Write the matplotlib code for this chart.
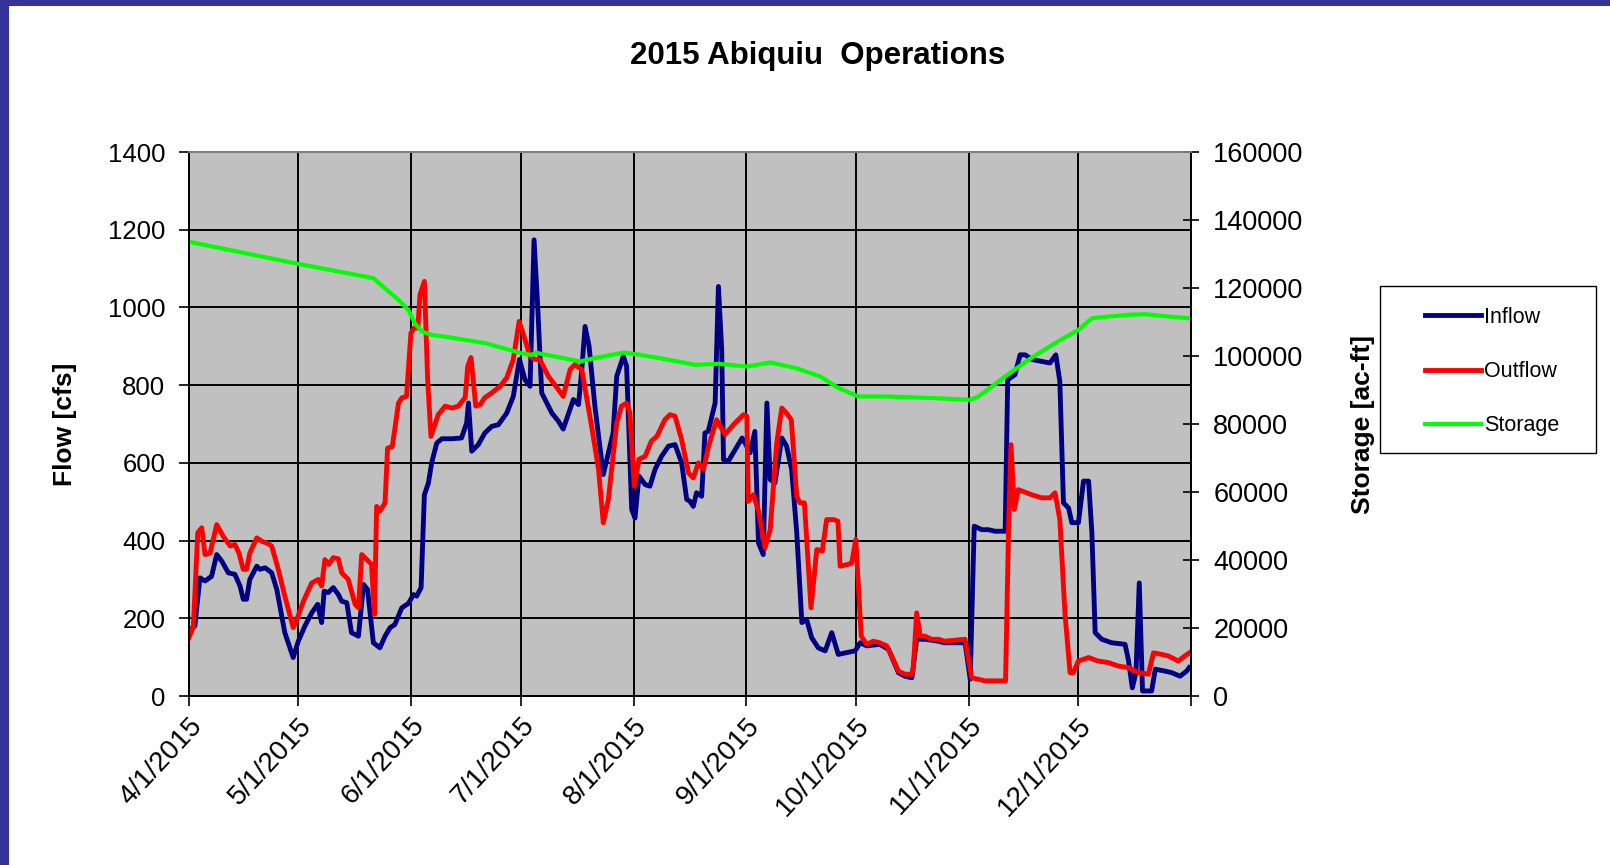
import matplotlib
matplotlib.use("Agg")
import matplotlib.pyplot as plt
import matplotlib.patches as mpatches
import numpy as np
import pandas as pd

plt.rcParams['font.family'] = ['Liberation Sans', 'DejaVu Sans']

# days after 4/1/2015 and daily flows [cfs]
inflow_day = [0, 0.3, 1.6, 3, 4.4, 6.2, 7.6, 9, 10.8, 12.6, 14, 14.9, 15.8, 16.7, 18.6, 19.5,
              20.9, 22.7, 24.1, 26.3, 28.6, 30, 31.8, 33.7, 35.3, 36.4, 37.1, 38.2, 39.6, 41,
              41.9, 43.3, 44.6, 46.5, 47.9, 49, 50.6, 52.4, 53.8, 55.2, 56.5, 58.4, 60.2, 61.6,
              62.5, 63.7, 64.6, 65.7, 66.6, 68, 69.4, 72.1, 74.8, 76.2, 76.7, 77.6, 79.4, 81.2,
              83.1, 84.9, 87.2, 89, 90.7, 92.2, 93.6, 94.7, 95.7, 96.8, 98.2, 99.6, 101.4, 102.7,
              104.2, 105.5, 106.9, 107.8, 108.7, 109.8, 111.4, 113.7, 115.1, 116.4, 117.4, 119.2,
              120.1, 121.5, 122.4, 123.5, 125.2, 126.5, 127.9, 129.7, 131.6, 133.4, 135.2, 136.6,
              137.5, 138.4, 139.3, 140.7, 141.6, 142.5, 144.4, 145.3, 146.2, 146.7, 148, 149.9,
              151.8, 152.6, 154, 155.3, 156.3, 157.6, 158.6, 159.5, 160.8, 162.7, 164, 165.4,
              166.8, 168.2, 169.5, 170.9, 172.7, 174.6, 176.4, 178.2, 180.1, 182.8, 184.2, 186,
              189.6, 192, 194.7, 196.5, 198.4, 199.7, 202, 205.7, 207.3, 213, 214.4, 215.5,
              217.6, 219.4, 221.2, 224, 224.7, 226.7, 228.1, 229.5, 231.3, 234, 236.3, 237.9,
              239, 240, 241.4, 242.3, 244.1, 245.5, 246.9, 247.8, 248.7, 250.5, 253.2, 256.9,
              257.8, 258.9, 259.9, 260.8, 261.7, 264.2, 265.2, 267.9, 269.7, 272, 273.8, 274.5]
inflow_cfs = [165, 171, 180, 304, 296, 308, 364, 347, 317, 313, 283, 249, 249, 300, 334, 326,
              330, 317, 274, 163, 99, 141, 180, 214, 236, 189, 270, 266, 279, 261,
              244, 240, 163, 154, 287, 274, 137, 124, 154, 176, 184, 227, 238, 261,
              257, 279, 518, 548, 600, 651, 662, 662, 664, 703, 754, 630, 647, 677,
              694, 698, 728, 771, 866, 814, 797, 1174, 1003, 780, 754, 728, 707, 687,
              728, 763, 750, 840, 951, 900, 746, 570, 626, 677, 823, 874,
              849, 480, 458, 566, 544, 540, 583, 617, 643, 647, 600, 506,
              501, 488, 523, 514, 677, 681, 754, 1054, 891, 608, 604, 634,
              664, 651, 626, 681, 394, 364, 754, 557, 548, 664, 643, 583,
              420, 189, 197, 150, 124, 116, 163, 107, 111, 116, 137, 129,
              133, 120, 60, 51, 47, 146, 146, 141, 137, 137, 43, 437,
              428, 428, 424, 424, 814, 827, 878, 878, 866, 861, 857, 878,
              810, 497, 484, 446, 446, 553, 553, 420, 163, 146, 137, 133,
              94, 21, 60, 291, 13, 13, 69, 64, 60, 51, 64, 73]

outflow_day = [0, 1.2, 2.4, 3.5, 4.4, 5.8, 7.6, 9.4, 11.3, 12.6, 13.7, 14.9, 15.8, 16.7, 18.6,
               20, 21.3, 22.7, 24.5, 26.3, 28.6, 29.6, 31.4, 33.7, 35.5, 36.4, 37.3, 38.4, 39.6,
               41, 41.9, 43.7, 45.6, 46.5, 47.4, 48.8, 50.1, 50.9, 51.5, 52.4, 53.8, 54.5, 55.8,
               57.5, 58.4, 59.7, 60.9, 61.8, 62.8, 63.4, 64.6, 65.5, 66.4, 68.4, 70.3, 72.1, 73.9,
               75.8, 76.5, 77.4, 78.7, 79.9, 81.2, 83.1, 85.4, 87.2, 89, 90.6, 91.8, 93.6, 95,
               96.3, 98.6, 100.4, 102.7, 104.6, 105.9, 107.8, 110.5, 112.4, 113.7, 115.1, 117.4,
               118.7, 120.1, 121, 122.2, 123.5, 125.2, 126.9, 128.4, 130.6, 132, 133.4, 135.2,
               137.1, 138.4, 139.8, 141.2, 142.6, 144.8, 147.1, 149.9, 152.2, 153.1, 153.5, 154.9,
               156.3, 158.1, 159.5, 161.3, 162.7, 164, 165.3, 166.8, 167.7, 168.9, 170.7, 172.3,
               173.8, 175, 176.9, 178.1, 178.7, 181, 181.9, 183, 184.5, 186, 187.8, 189.6, 191.5,
               193.3, 194.7, 196.5, 198.4, 198.8, 199.7, 200.7, 202, 203.8, 205.7, 207.3, 213,
               214.8, 218.5, 224.1, 225, 225.6, 226.5, 227.6, 231.3, 234, 236.3, 237.7, 239,
               240.4, 241.8, 242.7, 244.1, 246.9, 249.5, 252.3, 255.1, 257.8, 260.6, 263.3,
               264.7, 267, 268.8, 271.5, 273.3, 274.5]
outflow_cfs = [150, 180, 420, 433, 364, 368, 441, 411, 386, 390, 368, 326, 326, 368, 407,
               398, 394, 386, 326, 257, 176, 197, 244, 291, 300, 283, 351, 339, 356,
               353, 317, 300, 236, 227, 364, 351, 339, 210, 488, 476, 497, 638, 642,
               754, 767, 771, 934, 947, 947, 1033, 1067, 814, 668, 724, 746, 741, 746,
               768, 849, 871, 746, 750, 768, 780, 797, 819, 866, 964, 930, 874, 866,
               866, 823, 801, 771, 840, 853, 840, 694, 583, 446, 506, 703,
               746, 754, 729, 540, 609, 617, 656, 668, 711, 724, 720, 660,
               574, 561, 600, 583, 643, 711, 673, 703, 724, 720, 501, 518,
               476, 381, 428, 651, 741, 728, 711, 514, 497, 497, 227, 377,
               373, 454, 454, 450, 334, 339, 343, 403, 154, 133, 141, 137, 129,
               94, 64, 56, 56, 73, 214, 154, 154, 146, 146, 141, 146,
               47, 39, 39, 463, 647, 480, 531, 518, 510, 510, 523, 454,
               214, 60, 60, 90, 99, 90, 86, 77, 73, 60, 56,
               111, 107, 103, 90, 103, 111]

# reservoir storage [ac-ft]
storage_day = [0, 29, 50.6, 53.8, 57.5, 60.2, 62, 63.9, 66.6, 70.3, 81.2, 91.3, 94.1, 95,
               107.3, 111.4, 119.2, 122.4, 131.6, 138.9, 145.3, 153.1, 159.5, 166.7, 173.2,
               178.2, 183.7, 191, 204.8, 214.4, 216.7, 224, 230.4, 237.7, 244.1, 247.8, 252.3,
               257.8, 262.4, 268.8, 274.5]
storage_acft = [133600, 127300, 122900, 119900, 116500, 113600, 109600, 107200, 106200, 105700,
                103800, 100800, 100300, 101000, 98400, 99400, 101000, 100600, 98900, 97400,
                97700, 96900, 98100, 96400, 94000, 90600, 88100, 88100, 87600, 87100, 88100,
                94000, 98900, 103800, 107700, 111100, 111600, 112100, 112300, 111600, 111100]

month_ticks = ['2015-04-01', '2015-05-01', '2015-06-01', '2015-07-01', '2015-08-01',
               '2015-09-01', '2015-10-01', '2015-11-01', '2015-12-01', '2016-01-01']
month_labels = ['4/1/2015', '5/1/2015', '6/1/2015', '7/1/2015', '8/1/2015',
                '9/1/2015', '10/1/2015', '11/1/2015', '12/1/2015', '']

start = pd.Timestamp('2015-04-01')
def to_dates(days):
    return start + pd.to_timedelta(np.array(days), unit='D')

W, H = 1610, 865
fig = plt.figure(figsize=(W / 100, H / 100), dpi=100)

# slide frame: blue strip on top and left
fig.patches.append(mpatches.Rectangle((0, 1 - 6 / H), 1, 6 / H, transform=fig.transFigure,
                                      facecolor='#333399', edgecolor='none', zorder=0))
fig.patches.append(mpatches.Rectangle((0, 0), 9 / W, 1, transform=fig.transFigure,
                                      facecolor='#333399', edgecolor='none', zorder=0))

ax = fig.add_axes([189 / W, 1 - 696 / H, 1002 / W, 544 / H])
ax.set_facecolor('#C0C0C0')
ax2 = ax.twinx()

l1, = ax.plot(to_dates(inflow_day), inflow_cfs, color='#000080', lw=3.5, label='Inflow',
              solid_joinstyle='round')
l2, = ax.plot(to_dates(outflow_day), outflow_cfs, color='#FF0000', lw=3.5, label='Outflow',
              solid_joinstyle='round')
l3, = ax2.plot(to_dates(storage_day), storage_acft, color='#00FF00', lw=3.0, label='Storage',
               solid_joinstyle='round')

ticks = pd.to_datetime(month_ticks)
ax.set_xlim(ticks[0], ticks[-1])
ax.set_xticks(ticks)
ax.set_xticklabels(month_labels, rotation=47, ha='right', rotation_mode='anchor', fontsize=20)
ax.set_ylim(0, 1400)
ax.set_yticks(np.arange(0, 1401, 200))
ax.tick_params(axis='y', labelsize=18.5, length=7, width=1.2, pad=10)
ax.tick_params(axis='x', length=7, width=1.2, pad=5)
ax.grid(True, color='black', lw=1.4)
ax.set_axisbelow(True)

ax2.set_ylim(0, 160000)
ax2.set_yticks(np.arange(0, 160001, 20000))
ax2.tick_params(axis='y', labelsize=19.5, direction='inout', length=12, width=1.2, pad=10)

for a in (ax, ax2):
    a.spines['top'].set_color('#808080')
    a.spines['left'].set_color('black')
    a.spines['right'].set_color('black')
    a.spines['bottom'].set_color('black')
    for s in a.spines.values():
        s.set_linewidth(1.3)

ax.set_ylabel('Flow [cfs]', fontsize=19, fontweight='bold', labelpad=22)
ax2.set_ylabel('Storage [ac-ft]', fontsize=19, fontweight='bold', labelpad=34)

fig.text(818 / W, 1 - 56 / H, '2015 Abiquiu  Operations', ha='center', va='center',
         fontsize=22.5, fontweight='bold')

# legend box drawn separately so it can be wider than its entries
fig.patches.append(mpatches.Rectangle((1380 / W, 1 - 453 / H), 216 / W, 167 / H,
                                      transform=fig.transFigure, facecolor='white',
                                      edgecolor='black', lw=1.0, zorder=2))
leg = fig.legend([l1, l2, l3], ['Inflow', 'Outflow', 'Storage'],
                 loc='upper left', bbox_to_anchor=(1414 / W, 1 - 296 / H),
                 fontsize=15.5, frameon=False,
                 handlelength=2.6, handletextpad=0.15, labelspacing=1.55,
                 borderpad=0.5, borderaxespad=0)
leg.set_zorder(3)

fig.savefig('out.png', dpi=100, facecolor='white')
